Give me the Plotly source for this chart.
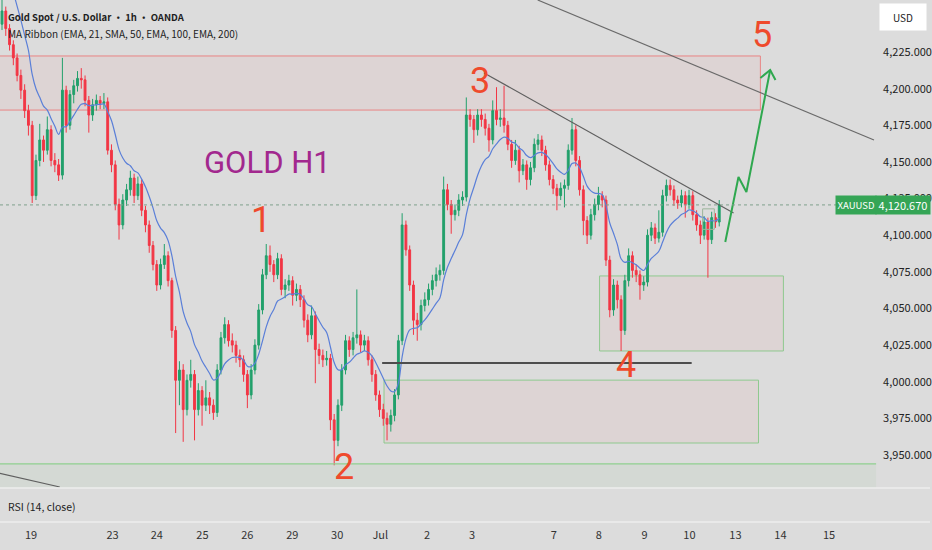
import plotly.graph_objects as go

# ---------------- data (2-hour candles) ----------------
OPEN0 = 4244
CLOSE = [4253, 4241, 4230, 4221, 4209, 4199, 4185, 4175, 4127, 4151,
         4165, 4158, 4172, 4151, 4148, 4141, 4199, 4175, 4196, 4202,
         4207, 4206, 4192, 4182, 4189, 4192, 4190, 4191, 4158, 4148,
         4121, 4107, 4124, 4131, 4139, 4127, 4135, 4117, 4107, 4093,
         4080, 4066, 4080, 4086, 4069, 4035, 4001, 4008, 3981, 4001,
         4005, 3981, 3994, 3984, 3989, 3984, 3979, 4008, 4030, 4039,
         4028, 4025, 4018, 4015, 4005, 3991, 4008, 4025, 4049, 4073,
         4086, 4080, 4073, 4084, 4063, 4066, 4069, 4059, 4063, 4056,
         4042, 4032, 4045, 4022, 4018, 4015, 4016, 3974, 3960, 3984,
         4008, 4028, 4022, 4030, 4032, 4025, 4028, 4015, 4005, 3991,
         3981, 3975, 3971, 3977, 3991, 4028, 4107, 4090, 4066, 4042,
         4039, 4052, 4056, 4063, 4069, 4073, 4076, 4131, 4121, 4114,
         4117, 4124, 4126, 4182, 4179, 4172, 4182, 4179, 4173, 4165,
         4185, 4179, 4180, 4175, 4162, 4151, 4158, 4144, 4148, 4138,
         4146, 4162, 4165, 4158, 4148, 4138, 4132, 4127, 4132, 4134,
         4158, 4172, 4151, 4131, 4110, 4100, 4114, 4121, 4127, 4124,
         4083, 4049, 4066, 4056, 4035, 4069, 4086, 4076, 4073, 4066,
         4068, 4100, 4105, 4098, 4102, 4127, 4134, 4131, 4124, 4122,
         4127, 4121, 4127, 4114, 4107, 4100, 4109, 4097, 4112, 4109,
         4120.67]
HIGH = [4262, 4256, 4244, 4233, 4224, 4213, 4203, 4189, 4178, 4155,
        4176, 4168, 4181, 4175, 4156, 4152, 4221, 4202, 4199, 4206,
        4212, 4214, 4209, 4195, 4193, 4196, 4195, 4197, 4194, 4162,
        4151, 4125, 4128, 4135, 4144, 4142, 4140, 4138, 4120, 4110,
        4096, 4083, 4084, 4094, 4089, 4071, 4038, 4014, 4012, 4005,
        4015, 4008, 3999, 3997, 4001, 3993, 3988, 4012, 4034, 4044,
        4042, 4033, 4028, 4022, 4018, 4008, 4012, 4029, 4053, 4077,
        4094, 4093, 4083, 4088, 4087, 4070, 4073, 4072, 4067, 4066,
        4059, 4046, 4052, 4048, 4026, 4022, 4021, 4019, 3978, 3988,
        4012, 4032, 4031, 4034, 4063, 4035, 4032, 4031, 4018, 4008,
        3994, 3985, 3979, 3981, 3995, 4032, 4115, 4110, 4093, 4069,
        4047, 4056, 4061, 4067, 4073, 4078, 4080, 4140, 4135, 4124,
        4121, 4128, 4130, 4194, 4186, 4182, 4186, 4186, 4183, 4176,
        4192, 4201, 4186, 4202, 4178, 4165, 4165, 4161, 4152, 4151,
        4150, 4166, 4169, 4168, 4161, 4151, 4141, 4135, 4136, 4138,
        4162, 4180, 4175, 4154, 4134, 4113, 4118, 4125, 4133, 4130,
        4127, 4086, 4070, 4069, 4059, 4073, 4091, 4089, 4080, 4076,
        4072, 4104, 4109, 4108, 4117, 4131, 4138, 4138, 4134, 4127,
        4131, 4130, 4131, 4130, 4117, 4110, 4113, 4112, 4116, 4115,
        4124]
LOW = [4240, 4236, 4226, 4216, 4205, 4193, 4180, 4168, 4122, 4124,
       4147, 4150, 4155, 4147, 4143, 4137, 4138, 4170, 4172, 4190,
       4198, 4200, 4188, 4170, 4178, 4185, 4186, 4186, 4155, 4143,
       4117, 4097, 4104, 4120, 4127, 4122, 4124, 4113, 4102, 4088,
       4076, 4062, 4063, 4077, 4065, 4030, 3965, 3984, 3959, 3977,
       3996, 3960, 3977, 3970, 3980, 3978, 3974, 3976, 4005, 4026,
       4024, 4020, 4013, 4010, 4000, 3982, 3988, 4005, 4022, 4046,
       4070, 4075, 4068, 4070, 4059, 4057, 4062, 4052, 4055, 4051,
       4037, 4027, 4029, 3999, 4012, 4010, 4011, 3967, 3943, 3956,
       3980, 4005, 4017, 4018, 4026, 4020, 4021, 4011, 4000, 3987,
       3976, 3970, 3960, 3966, 3973, 3988, 4025, 4086, 4062, 4032,
       4028, 4035, 4048, 4052, 4059, 4065, 4069, 4073, 4117, 4101,
       4110, 4113, 4120, 4123, 4174, 4163, 4168, 4174, 4168, 4157,
       4162, 4175, 4174, 4170, 4158, 4146, 4148, 4136, 4141, 4131,
       4134, 4143, 4158, 4154, 4144, 4134, 4128, 4117, 4124, 4119,
       4131, 4155, 4147, 4127, 4100, 4094, 4097, 4110, 4117, 4119,
       4079, 4044, 4045, 4050, 4021, 4032, 4065, 4071, 4068, 4056,
       4062, 4065, 4096, 4094, 4095, 4099, 4123, 4127, 4120, 4118,
       4119, 4112, 4118, 4110, 4103, 4094, 4097, 4071, 4094, 4105,
       4106]
OPEN = [OPEN0] + CLOSE[:-1]
IDX = list(range(len(CLOSE)))

EMA_SPAN = 11          # EMA 21 on 1h ~ EMA 11 on 2h bars
EMA_PRIOR = 4300       # value of the ribbon just before the first bar (above the pane)

DAY_LABELS = ["19", "23", "24", "25", "26", "29", "30", "Jul", "2", "3",
              "7", "8", "9", "10", "13", "14", "15"]
DAY_POS = [7.7, 29.3, 41.0, 53.1, 65.0, 76.9, 88.8, 100.2, 112.6, 124.5,
           146.2, 158.1, 170.2, 182.1, 194.3, 206.2, 219.1]

PRICE_TICKS = [3950, 3975, 4000, 4025, 4050, 4075, 4100, 4125, 4150, 4175, 4200, 4225]
LAST_PRICE = 4120.67

# drawings (candle index, price)
SUPPLY_ZONE = (-1, 200.9, 4185.4, 4222.3)
DEMAND_ZONE_1 = (158.3, 207.0, 4021.0, 4072.2)
DEMAND_ZONE_2 = (101.2, 200.4, 3958.2, 4001.1)
SMALL_BOX = (185.6, 188.7, 4104.0, 4118.0)
SUPPORT_LINE = (100.7, 182.7, 4012.8)
GREEN_BASE = 3943.9
TREND_1 = ([127.7, 193.8], [4210.7, 4115.1])
TREND_2 = ([141.9, 231.0], [4260.5, 4165.0])
TREND_3 = ([-1, 15.3], [3937.7, 3928.2])
ARROW_PATH = ([191.6, 195.1, 197.2, 203.5], [4095.4, 4139.7, 4129.5, 4212.7])
ARROW_HEAD = ([200.9, 203.5, 204.9], [4207.3, 4212.7, 4205.9])
WAVE_LABELS = [("1", 68.7, 4110.4), ("2", 90.7, 3941.8), ("3", 126.6, 4205.2),
               ("4", 165.2, 4011.4), ("5", 201.4, 4236.6)]

# ---------------- styling ----------------
BG = "#dcdcdc"
UP = "#22a06b"
DOWN = "#f23645"
NARROW = "Noto Sans CJK SC, Lato, Roboto, sans-serif"
BIG = "Roboto, Lato, sans-serif"
X_RANGE = [-0.53, 231.56]
Y_RANGE = [3927.5, 4260.5]
W, H = 932, 550
PANE_RIGHT = 878 / W
PRICE_BOTTOM = 1 - 488 / H
RSI_BOTTOM = 1 - 522 / H

ema = []
prev = EMA_PRIOR
alpha = 2 / (EMA_SPAN + 1)
for c in CLOSE:
    prev = prev + alpha * (c - prev)
    ema.append(prev)

fig = go.Figure()

fig.add_trace(go.Candlestick(
    x=IDX, open=OPEN, high=HIGH, low=LOW, close=CLOSE,
    increasing=dict(line=dict(color=UP, width=1), fillcolor=UP),
    decreasing=dict(line=dict(color=DOWN, width=1), fillcolor=DOWN),
    whiskerwidth=0, showlegend=False, hoverinfo="skip"))

fig.add_trace(go.Scatter(x=IDX, y=ema, mode="lines",
                         line=dict(color="#5a7fd8", width=1.2, shape="spline"),
                         showlegend=False, hoverinfo="skip"))

def add_line(xs, ys, color, width=1.2, dash=None):
    fig.add_trace(go.Scatter(x=xs, y=ys, mode="lines",
                             line=dict(color=color, width=width, dash=dash),
                             showlegend=False, hoverinfo="skip", cliponaxis=True))

add_line(*TREND_1, "#5f5f5f", 1.2)
add_line(*TREND_2, "#6a6a6a", 1.2)
add_line(*TREND_3, "#5f5f5f", 1.2)
add_line([SUPPORT_LINE[0], SUPPORT_LINE[1]], [SUPPORT_LINE[2], SUPPORT_LINE[2]], "#4d4d4d", 1.8)
add_line(*ARROW_PATH, "#2fa84f", 2)
add_line(*ARROW_HEAD, "#2fa84f", 2)

# invisible trace for the lower (RSI) pane so its x axis is drawn
fig.add_trace(go.Scatter(x=[X_RANGE[0]], y=[0], xaxis="x2", yaxis="y2", mode="markers",
                         marker=dict(opacity=0), showlegend=False, hoverinfo="skip"))

shapes = []
def zone(z, border):
    shapes.append(dict(type="rect", xref="x", yref="y", x0=z[0], x1=z[1], y0=z[2], y1=z[3],
                       line=dict(color=border, width=1), fillcolor="rgba(242,110,110,0.07)",
                       layer="below"))
zone(SUPPLY_ZONE, "#e98585")
zone(DEMAND_ZONE_1, "#8ec98e")
zone(DEMAND_ZONE_2, "#8ec98e")
shapes.append(dict(type="rect", xref="x", yref="y", x0=SMALL_BOX[0], x1=SMALL_BOX[1],
                   y0=SMALL_BOX[2], y1=SMALL_BOX[3], line=dict(color="#9bb59b", width=1),
                   fillcolor="rgba(0,0,0,0)"))
shapes.append(dict(type="rect", xref="paper", yref="y", x0=0, x1=PANE_RIGHT,
                   y0=Y_RANGE[0], y1=GREEN_BASE, line=dict(width=0),
                   fillcolor="rgba(76,175,80,0.05)", layer="below"))
shapes.append(dict(type="line", xref="paper", yref="y", x0=0, x1=PANE_RIGHT,
                   y0=GREEN_BASE, y1=GREEN_BASE, line=dict(color="#8fd08f", width=1.2)))
shapes.append(dict(type="line", xref="paper", yref="y", x0=0, x1=838 / W,
                   y0=LAST_PRICE, y1=LAST_PRICE, line=dict(color="#7fa08c", width=1, dash="dot")))
for yy in (1 - 488 / H, 1 - 522 / H):
    shapes.append(dict(type="line", xref="paper", yref="paper", x0=0, x1=1, y0=yy, y1=yy,
                       line=dict(color="#eeeeee", width=1.5)))

annotations = []
for txt, xi, yp in WAVE_LABELS:
    annotations.append(dict(x=xi, y=yp, xref="x", yref="y", text=txt, showarrow=False,
                            xanchor="center", yanchor="middle",
                            font=dict(family=BIG, size=36, color="#ef4a2c")))
annotations.append(dict(x=70.3, y=4149.9, xref="x", yref="y", text="GOLD H1", showarrow=False,
                        xanchor="center", yanchor="middle",
                        font=dict(family=BIG, size=31, color="#a2288e")))
annotations.append(dict(x=6 / W, y=1 - 17 / H, xref="paper", yref="paper",
                        xanchor="left", yanchor="middle",
                        text="<b>Gold Spot / U.S. Dollar · 1h · OANDA</b>", showarrow=False,
                        font=dict(family=NARROW, size=9.5, color="#1e1e1e")))
annotations.append(dict(x=6 / W, y=1 - 33 / H, xref="paper", yref="paper",
                        xanchor="left", yanchor="middle",
                        text="MA Ribbon (EMA, 21, SMA, 50, EMA, 100, EMA, 200)", showarrow=False,
                        font=dict(family=NARROW, size=10, color="#1e1e1e")))
annotations.append(dict(x=6 / W, y=1 - 506 / H, xref="paper", yref="paper",
                        xanchor="left", yanchor="middle",
                        text="RSI (14, close)", showarrow=False,
                        font=dict(family=NARROW, size=10.5, color="#1e1e1e")))
annotations.append(dict(x=905 / W, y=1 - 17 / H, xref="paper", yref="paper",
                        xanchor="center", yanchor="middle",
                        text="USD", showarrow=False, bgcolor="#ffffff", width=44, height=24,
                        font=dict(family=NARROW, size=10, color="#222222")))
annotations.append(dict(x=857.5 / W, y=LAST_PRICE, xref="paper", yref="y",
                        xanchor="center", yanchor="middle",
                        text="XAUUSD", showarrow=False, bgcolor="#35a556", width=38, height=16,
                        font=dict(family=NARROW, size=9.5, color="#ffffff")))
annotations.append(dict(x=905 / W, y=LAST_PRICE, xref="paper", yref="y",
                        xanchor="center", yanchor="middle",
                        text=f"{LAST_PRICE:,.3f}", showarrow=False, bgcolor="#35a556", width=52, height=16,
                        font=dict(family=NARROW, size=11, color="#ffffff")))

fig.update_layout(
    width=W, height=H, margin=dict(l=0, r=0, t=0, b=0),
    paper_bgcolor=BG, plot_bgcolor=BG, showlegend=False,
    font=dict(family=NARROW),
    shapes=shapes, annotations=annotations,
    xaxis=dict(domain=[0, PANE_RIGHT], range=X_RANGE, anchor="y", showgrid=False,
               zeroline=False, showticklabels=False, rangeslider=dict(visible=False),
               fixedrange=True),
    yaxis=dict(domain=[PRICE_BOTTOM, 1], range=Y_RANGE, side="right", anchor="x",
               tickvals=PRICE_TICKS, ticktext=[f"{v:,.3f}" for v in PRICE_TICKS],
               showgrid=False, zeroline=False, ticks="", ticklabelstandoff=6,
               tickfont=dict(family=NARROW, size=11, color="#222222")),
    xaxis2=dict(domain=[0, PANE_RIGHT], range=X_RANGE, anchor="y2", matches="x",
                tickvals=DAY_POS, ticktext=DAY_LABELS, showgrid=False, zeroline=False,
                ticks="", ticklabelstandoff=5,
                tickfont=dict(family=NARROW, size=11, color="#333333")),
    yaxis2=dict(domain=[RSI_BOTTOM, PRICE_BOTTOM], range=[0, 100], anchor="x2",
                showticklabels=False, showgrid=False, zeroline=False),
)

fig.write_html("out.html")
